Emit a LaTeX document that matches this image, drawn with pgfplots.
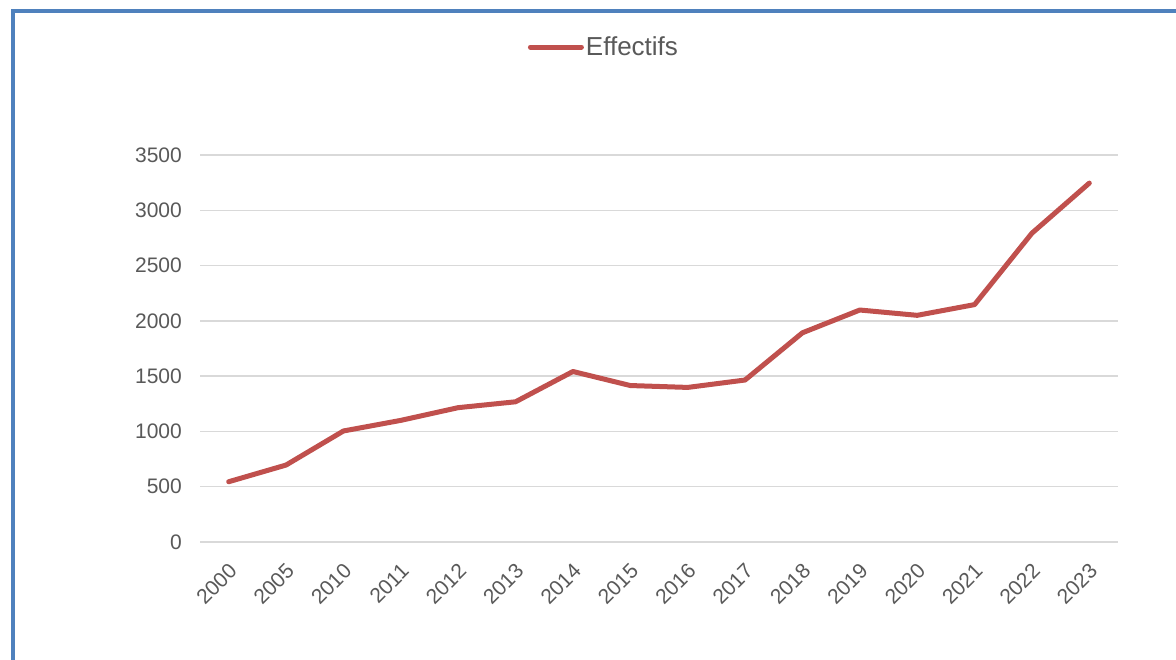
\documentclass[border=0pt]{standalone}
\usepackage{fontspec}
\setmainfont{Liberation Sans}
\usepackage{pgfplots}
\pgfplotsset{compat=1.18}
\definecolor{serie}{HTML}{C0504D}
\definecolor{grille}{HTML}{D9D9D9}
\definecolor{texte}{HTML}{595959}
\definecolor{cadre}{HTML}{4F81BD}
\begin{document}
\begin{tikzpicture}
\useasboundingbox (0,0) rectangle (1176bp,660bp);
\fill[white] (0,0) rectangle (1176bp,660bp);
\draw[cadre, line width=4bp] (13bp,0) -- (13bp,649bp) -- (1176bp,649bp);
\begin{axis}[
    at={(200bp,118bp)}, anchor=south west,
    scale only axis,
    width=918bp, height=387bp,
    xmin=-0.5, xmax=15.5,
    ymin=0, ymax=3500,
    ytick={0,500,...,3500},
    xtick={0,...,15},
    xticklabels={2000,2005,2010,2011,2012,2013,2014,2015,2016,2017,2018,2019,2020,2021,2022,2023},
    axis line style={draw=none},
    major tick length=0pt,
    ymajorgrids,
    grid style={grille, line width=1.5bp},
    /pgf/number format/assume math mode=true,
    /pgf/number format/1000 sep={},
    tick label style={font=\fontsize{21bp}{25bp}\selectfont, text=texte},
    yticklabel style={inner sep=0pt, xshift=-18bp},
    xticklabel style={inner sep=0pt, xshift=-1bp, yshift=-20bp, rotate=45, anchor=north east},
    legend style={at={(0.44,1.279)}, anchor=center, draw=none, fill=none,
        font=\fontsize{26bp}{30bp}\selectfont, text=texte,
        /tikz/every even column/.append style={column sep=0pt}},
    legend image code/.code={\draw[line width=5bp, line cap=round, #1] (0bp,0bp) -- (51bp,0bp);},
]
\addplot[serie, line width=5bp, line join=round, line cap=round] coordinates {
    (0,545) (1,696) (2,1004) (3,1100) (4,1215) (5,1268) (6,1542) (7,1415)
    (8,1398) (9,1465) (10,1892) (11,2098) (12,2050) (13,2147) (14,2793) (15,3246)
};
\addlegendentry{Effectifs}
\end{axis}
\end{tikzpicture}
\end{document}
